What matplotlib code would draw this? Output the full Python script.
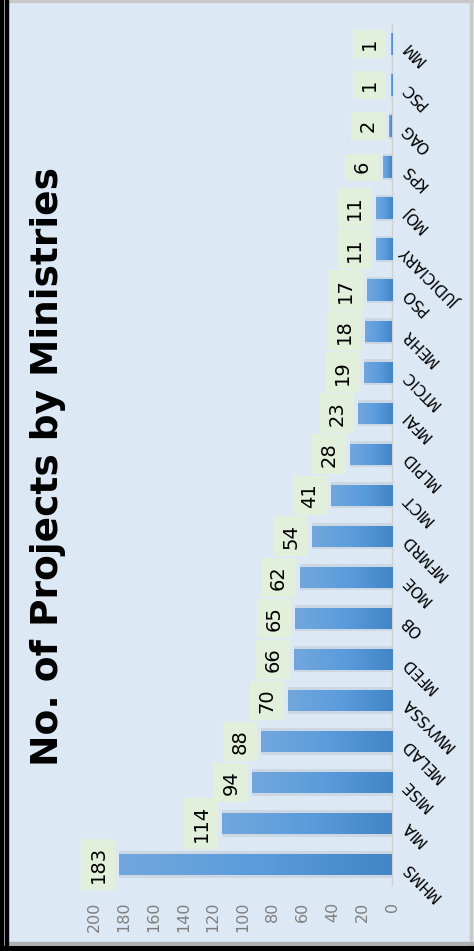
import numpy as np
import matplotlib
matplotlib.use('Agg')
import matplotlib.pyplot as plt
from matplotlib.colors import LinearSegmentedColormap
from matplotlib.patches import Rectangle

# data (bottom to top as drawn)
ministries = ['MHMS', 'MIA', 'MISE', 'MELAD', 'MWYSSA', 'MFED', 'OB', 'MOE', 'MFMRD',
              'MICT', 'MLPID', 'MFAI', 'MTCIC', 'MEHR', 'PSO', 'JUDICIARY', 'MOJ',
              'KPS', 'OAG', 'PSC', 'MM']
projects = [183, 114, 94, 88, 70, 66, 65, 62, 54, 41, 28, 23, 19, 18, 17, 11, 11, 6, 2, 1, 1]
value_ticks = [0, 20, 40, 60, 80, 100, 120, 140, 160, 180, 200]

bg = '#dde8f5'
W, H = 474, 951
fig = plt.figure(figsize=(W / 100, H / 100), dpi=100)
fig.patch.set_facecolor(bg)

ax = fig.add_axes([94 / W, 1 - 885 / H, 298 / W, 861.5 / H])
ax.set_facecolor(bg)

cmap = LinearSegmentedColormap.from_list('bar', ['#72a7dc', '#5b9cdd', '#4286c8'])
grad = np.linspace(0, 1, 256).reshape(1, -1)
bh = 0.52
ypos = np.arange(len(ministries))

for yi, v in zip(ypos, projects):
    # soft shadow
    ax.barh(yi, v, height=bh + 0.12, color='#7f8a99', alpha=0.18, zorder=1, linewidth=0)
    bar = ax.barh(yi, v, height=bh, color='none', linewidth=0, zorder=2)[0]
    im = ax.imshow(grad, extent=(v, 0, yi - bh / 2, yi + bh / 2), cmap=cmap,
                   aspect='auto', zorder=3, interpolation='bilinear')
    im.set_clip_path(bar)
    ax.annotate(str(v), xy=(v, yi), xytext=(-21, 0), textcoords='offset pixels',
                ha='center', va='center', rotation=90, fontsize=14, color='black',
                bbox=dict(boxstyle='square,pad=0.38', fc='#e2efda', ec='none'), zorder=4)

ax.set_xlim(200, 0)
ax.set_ylim(-0.5, len(ministries) - 0.5)

for s in ['top', 'bottom', 'left']:
    ax.spines[s].set_visible(False)
ax.spines['right'].set_color('#d0d0d0')
ax.spines['right'].set_linewidth(1)

ax.set_xticks(value_ticks)
ax.set_xticklabels([str(t) for t in value_ticks], rotation=90, color='#7f7f7f', fontsize=11.5)
ax.tick_params(axis='x', length=0, pad=12)
for lbl in ax.get_xticklabels():
    lbl.set_va('top')

ax.yaxis.tick_right()
ax.set_yticks(ypos)
ax.set_yticklabels(ministries, fontsize=11, color='black')
ax.tick_params(axis='y', length=0, pad=9)
for lbl in ax.get_yticklabels():
    lbl.set_rotation(135)
    lbl.set_rotation_mode('anchor')
    lbl.set_ha('right')
    lbl.set_va('center')

fig.text(48 / W, 1 - 467 / H, 'No. of Projects by Ministries', rotation=90,
         ha='center', va='center', fontsize=27, fontweight='bold',
         family='DejaVu Sans', color='black')

# frame
def px_rect(x0, y0, w, h, color):
    fig.patches.append(Rectangle((x0 / W, 1 - (y0 + h) / H), w / W, h / H,
                                 transform=fig.transFigure, color=color, zorder=10))

px_rect(0, 0, W, 1.5, '#c8c8c8')
px_rect(W - 4, 0, 1.5, H, '#c8c8c8')
px_rect(9, 942, W - 9, 1.5, '#b0b0b0')
px_rect(0, 0, 2.5, H, 'black')
px_rect(5, 0, 3, H, 'black')
px_rect(0, 946, W, 5, 'black')

fig.savefig('out.png', dpi=100, facecolor=bg)
